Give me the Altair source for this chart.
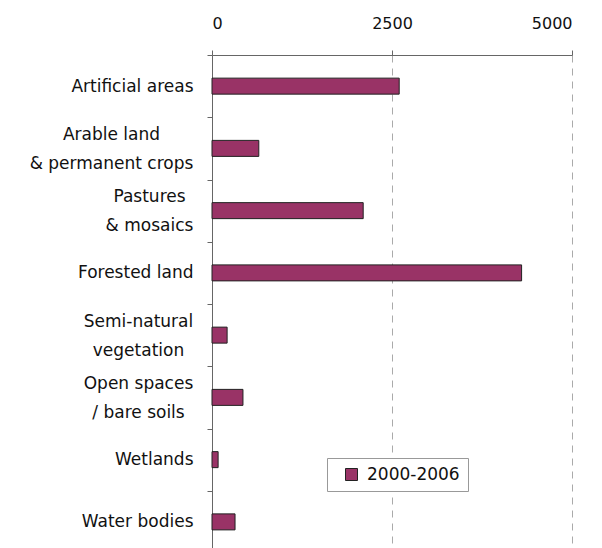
import altair as alt
import pandas as pd

categories = [
    "Artificial areas",
    "Arable land|& permanent crops",
    "Pastures|& mosaics",
    "Forested land",
    "Semi-natural|vegetation",
    "Open spaces|/ bare soils",
    "Wetlands",
    "Water bodies",
]
values = [2600, 650, 2100, 4300, 210, 430, 85, 320]
series = ["2000-2006"] * len(categories)
x_ticks = [0, 2500, 5000]

df = pd.DataFrame({"category": categories, "value": values, "series": series})

FONT = "DejaVu Sans"
multi_pad = {
    "Arable land|& permanent crops": 96,
    "Pastures|& mosaics": 58,
    "Semi-natural|vegetation": 69,
    "Open spaces|/ bare soils": 69,
}
pad_cond = [{"test": f"datum.value === '{k}'", "value": v} for k, v in multi_pad.items()]
is_multi = "test(/\\|/, '' + datum.value)"

bars = alt.Chart(df).mark_bar(
    height=16, color="#993366", stroke="#222222", strokeWidth=1
).encode(
    x=alt.X(
        "value:Q",
        scale=alt.Scale(domain=[0, 5000], nice=False),
        axis=alt.Axis(
            orient="top",
            values=x_ticks,
            format="d",
            title=None,
            grid=True,
            gridDash=[7, 6],
            gridColor="#aaaaaa",
            gridOpacity={"condition": {"test": "datum.value === 0", "value": 0}, "value": 1},
            domainColor="#666666",
            tickColor="#666666",
            tickSize=5,
            labelPadding=19,
            labelFont=FONT,
            labelFontSize=16,
            labelColor="#111111",
        ),
    ),
    y=alt.Y(
        "category:N",
        sort=None,
        scale=alt.Scale(paddingInner=0, paddingOuter=0),
        axis=alt.Axis(
            title=None,
            tickBand="extent",
            tickSize=5,
            domain=True,
            domainColor="#666666",
            tickColor="#666666",
            labelExpr="isString(datum.label) ? split(datum.label, '|') : ''",
            labelFont=FONT,
            labelFontSize=17,
            labelColor="#111111",
            labelLineHeight=29,
            labelBaseline="middle",
            labelLimit=400,
            labelAlign={"condition": {"test": is_multi, "value": "center"}, "value": "right"},
            labelOffset={"condition": {"test": is_multi, "value": -14}, "value": 0},
            labelPadding={"condition": pad_cond, "value": 14},
        ),
    ),
    color=alt.Color(
        "series:N",
        scale=alt.Scale(range=["#993366"]),
        legend=alt.Legend(
            title=None,
            orient="none",
            legendX=115,
            legendY=403,
            strokeColor="#999999",
            fillColor="white",
            padding=8,
            symbolOffset=8,
            symbolType="square",
            symbolSize=144,
            symbolStrokeColor="#222222",
            symbolStrokeWidth=1,
            labelFont=FONT,
            labelFontSize=17,
            labelColor="#111111",
            labelOffset=7,
        ),
    ),
)

chart = bars.properties(
    width=360,
    height=498,
    autosize=alt.AutoSizeParams(type="none"),
    padding={"left": 204, "top": 47, "right": 22, "bottom": 0},
).configure_view(stroke=None)

chart.save("out.html", embed_options={"renderer": "svg", "actions": False})
